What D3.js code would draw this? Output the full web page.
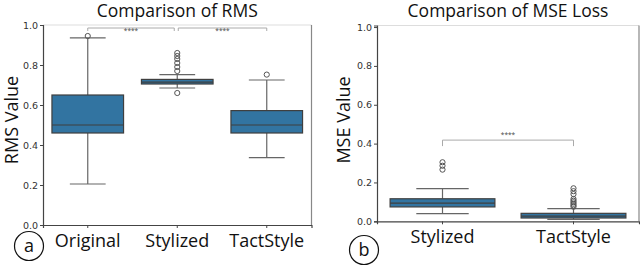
<!DOCTYPE html>
<html>
<head>
<meta charset="utf-8">
<script src="https://cdn.jsdelivr.net/npm/d3@7"></script>
<style>
  body { margin: 0; background: #fff; }
  text { font-family: "Open Sans", sans-serif; }
  .tick-label { font-family: "DejaVu Sans", sans-serif; font-size: 9.5px; fill: #333; }
</style>
</head>
<body>
<svg id="chart" width="640" height="266"></svg>
<script>
// RMS panel data (box stats)
var rmsCategories = ['Original', 'Stylized', 'TactStyle'];
var rmsLow = [0.205, 0.685, 0.337];
var rmsQ1 = [0.46, 0.705, 0.46];
var rmsMedian = [0.50, 0.714, 0.50];
var rmsQ3 = [0.65, 0.728, 0.572];
var rmsHigh = [0.936, 0.752, 0.725];
var rmsOutliers = [[0.945], [0.66, 0.77, 0.79, 0.81, 0.83, 0.845, 0.86], [0.752]];

// MSE panel data
var mseCategories = ['Stylized', 'TactStyle'];
var mseLow = [0.039, 0.01];
var mseQ1 = [0.074, 0.017];
var mseMedian = [0.094, 0.027];
var mseQ3 = [0.116, 0.041];
var mseHigh = [0.168, 0.065];
var mseOutliers = [[0.266, 0.286, 0.304], [0.075, 0.082, 0.09, 0.098, 0.106, 0.115, 0.14, 0.155, 0.17]];

var yTicks = [0, 0.2, 0.4, 0.6, 0.8, 1.0];

var svg = d3.select('#chart');
var boxFill = '#3274a1';
var lineColor = '#3f3f3f';

function drawPanel(p) {
  var x = d3.scaleBand().domain(p.categories).range([p.x0, p.x1]).paddingInner(0).paddingOuter(0);
  var y = d3.scaleLinear().domain(p.yDomain).range([p.y0, p.y1]);
  var g = svg.append('g');

  // frame
  g.append('line').attr('x1', p.x0).attr('x2', p.x1).attr('y1', p.y1).attr('y2', p.y1)
    .attr('stroke', '#ddd').attr('stroke-width', 1);
  g.append('line').attr('x1', p.x1).attr('x2', p.x1).attr('y1', p.y1).attr('y2', p.y0)
    .attr('stroke', '#888').attr('stroke-width', 1.2);

  // y axis
  var yAxis = d3.axisLeft(y).tickValues(yTicks).tickFormat(d3.format('.1f')).tickSize(3).tickPadding(2);
  var ya = g.append('g').attr('transform', 'translate(' + p.x0 + ',0)').call(yAxis);
  ya.select('.domain').attr('stroke', '#444').attr('stroke-width', 1.2);
  ya.selectAll('.tick line').attr('stroke', '#444');
  ya.selectAll('.tick text').attr('class', 'tick-label');

  // x axis
  var xAxis = d3.axisBottom(x).tickSize(3).tickPadding(6);
  var xa = g.append('g').attr('transform', 'translate(0,' + p.y0 + ')').call(xAxis);
  xa.select('.domain').attr('stroke', '#444').attr('stroke-width', 1.2);
  xa.selectAll('.tick line').attr('stroke', '#444');
  xa.selectAll('.tick text').attr('font-family', '"Open Sans", sans-serif')
    .attr('font-size', 18).attr('fill', '#111').attr('dy', '0.71em');

  var bw = x.bandwidth() * 0.8;
  var idx = d3.range(p.categories.length);
  var cx = function (i) { return x(p.categories[i]) + x.bandwidth() / 2; };

  var boxes = g.selectAll('.box').data(idx).enter().append('g');
  // whiskers
  boxes.append('line').attr('x1', cx).attr('x2', cx)
    .attr('y1', function (i) { return y(p.low[i]); }).attr('y2', function (i) { return y(p.q1[i]); })
    .attr('stroke', '#666').attr('stroke-width', 1.2);
  boxes.append('line').attr('x1', cx).attr('x2', cx)
    .attr('y1', function (i) { return y(p.q3[i]); }).attr('y2', function (i) { return y(p.high[i]); })
    .attr('stroke', '#666').attr('stroke-width', 1.2);
  // caps
  boxes.append('line').attr('x1', function (i) { return cx(i) - bw / 4; }).attr('x2', function (i) { return cx(i) + bw / 4; })
    .attr('y1', function (i) { return y(p.low[i]); }).attr('y2', function (i) { return y(p.low[i]); })
    .attr('stroke', '#666').attr('stroke-width', 1.2);
  boxes.append('line').attr('x1', function (i) { return cx(i) - bw / 4; }).attr('x2', function (i) { return cx(i) + bw / 4; })
    .attr('y1', function (i) { return y(p.high[i]); }).attr('y2', function (i) { return y(p.high[i]); })
    .attr('stroke', '#666').attr('stroke-width', 1.2);
  // box
  boxes.append('rect').attr('x', function (i) { return cx(i) - bw / 2; }).attr('width', bw)
    .attr('y', function (i) { return y(p.q3[i]); })
    .attr('height', function (i) { return y(p.q1[i]) - y(p.q3[i]); })
    .attr('fill', boxFill).attr('stroke', lineColor).attr('stroke-width', 1.2);
  // median
  boxes.append('line').attr('x1', function (i) { return cx(i) - bw / 2; }).attr('x2', function (i) { return cx(i) + bw / 2; })
    .attr('y1', function (i) { return y(p.median[i]); }).attr('y2', function (i) { return y(p.median[i]); })
    .attr('stroke', lineColor).attr('stroke-width', 1.2);
  // outliers
  idx.forEach(function (i) {
    g.selectAll(null).data(p.outliers[i]).enter().append('circle')
      .attr('cx', cx(i)).attr('cy', function (d) { return y(d); }).attr('r', 2.6)
      .attr('fill', 'none').attr('stroke', '#555').attr('stroke-width', 1);
  });

  // significance brackets
  p.brackets.forEach(function (b) {
    var xa1 = cx(b.from) + (b.insetL || 0), xa2 = cx(b.to) - (b.insetR || 0);
    var by = y(b.level);
    g.append('path')
      .attr('d', 'M' + xa1 + ',' + (by + b.tick) + 'V' + by + 'H' + xa2 + 'V' + (by + b.tick))
      .attr('fill', 'none').attr('stroke', '#aaa').attr('stroke-width', 1);
    g.append('text').attr('x', (xa1 + xa2) / 2).attr('y', by + b.textDy)
      .attr('text-anchor', 'middle').attr('font-family', '"DejaVu Sans", sans-serif')
      .attr('font-size', 6.5).attr('fill', '#444').text('****');
  });

  // title and y label
  g.append('text').attr('x', (p.x0 + p.x1) / 2).attr('y', 17).attr('text-anchor', 'middle')
    .attr('font-size', 17.5).attr('fill', '#111').text(p.title);
  g.append('text').attr('transform', 'translate(' + p.labelX + ',120) rotate(-90)')
    .attr('text-anchor', 'middle').attr('font-size', 18).attr('fill', '#111').text(p.yLabel);

  // panel letter
  g.append('circle').attr('cx', p.letterX).attr('cy', p.letterY).attr('r', 14.5)
    .attr('fill', 'none').attr('stroke', '#111').attr('stroke-width', 1.2);
  g.append('text').attr('x', p.letterX).attr('y', p.letterY + 6).attr('text-anchor', 'middle')
    .attr('font-size', 18).attr('fill', '#111').text(p.letter);
}

drawPanel({
  categories: rmsCategories, low: rmsLow, q1: rmsQ1, median: rmsMedian, q3: rmsQ3,
  high: rmsHigh, outliers: rmsOutliers,
  x0: 43, x1: 311.5, y0: 225, y1: 25, yDomain: [0, 1],
  title: 'Comparison of RMS', yLabel: 'RMS Value', labelX: 18,
  letter: 'a', letterX: 29, letterY: 246,
  brackets: [
    { from: 0, to: 1, level: 0.985, tick: 3, textDy: 5, insetR: 3 },
    { from: 1, to: 2, level: 0.985, tick: 3, textDy: 5, insetL: 1 }
  ]
});

drawPanel({
  categories: mseCategories, low: mseLow, q1: mseQ1, median: mseMedian, q3: mseQ3,
  high: mseHigh, outliers: mseOutliers,
  x0: 377, x1: 639, y0: 221.3, y1: 25.5, yDomain: [0, 1.008],
  title: 'Comparison of MSE Loss', yLabel: 'MSE Value', labelX: 350,
  letter: 'b', letterX: 364, letterY: 250,
  brackets: [
    { from: 0, to: 1, level: 0.418, tick: 6, textDy: -3 }
  ]
});
</script>
</body>
</html>
